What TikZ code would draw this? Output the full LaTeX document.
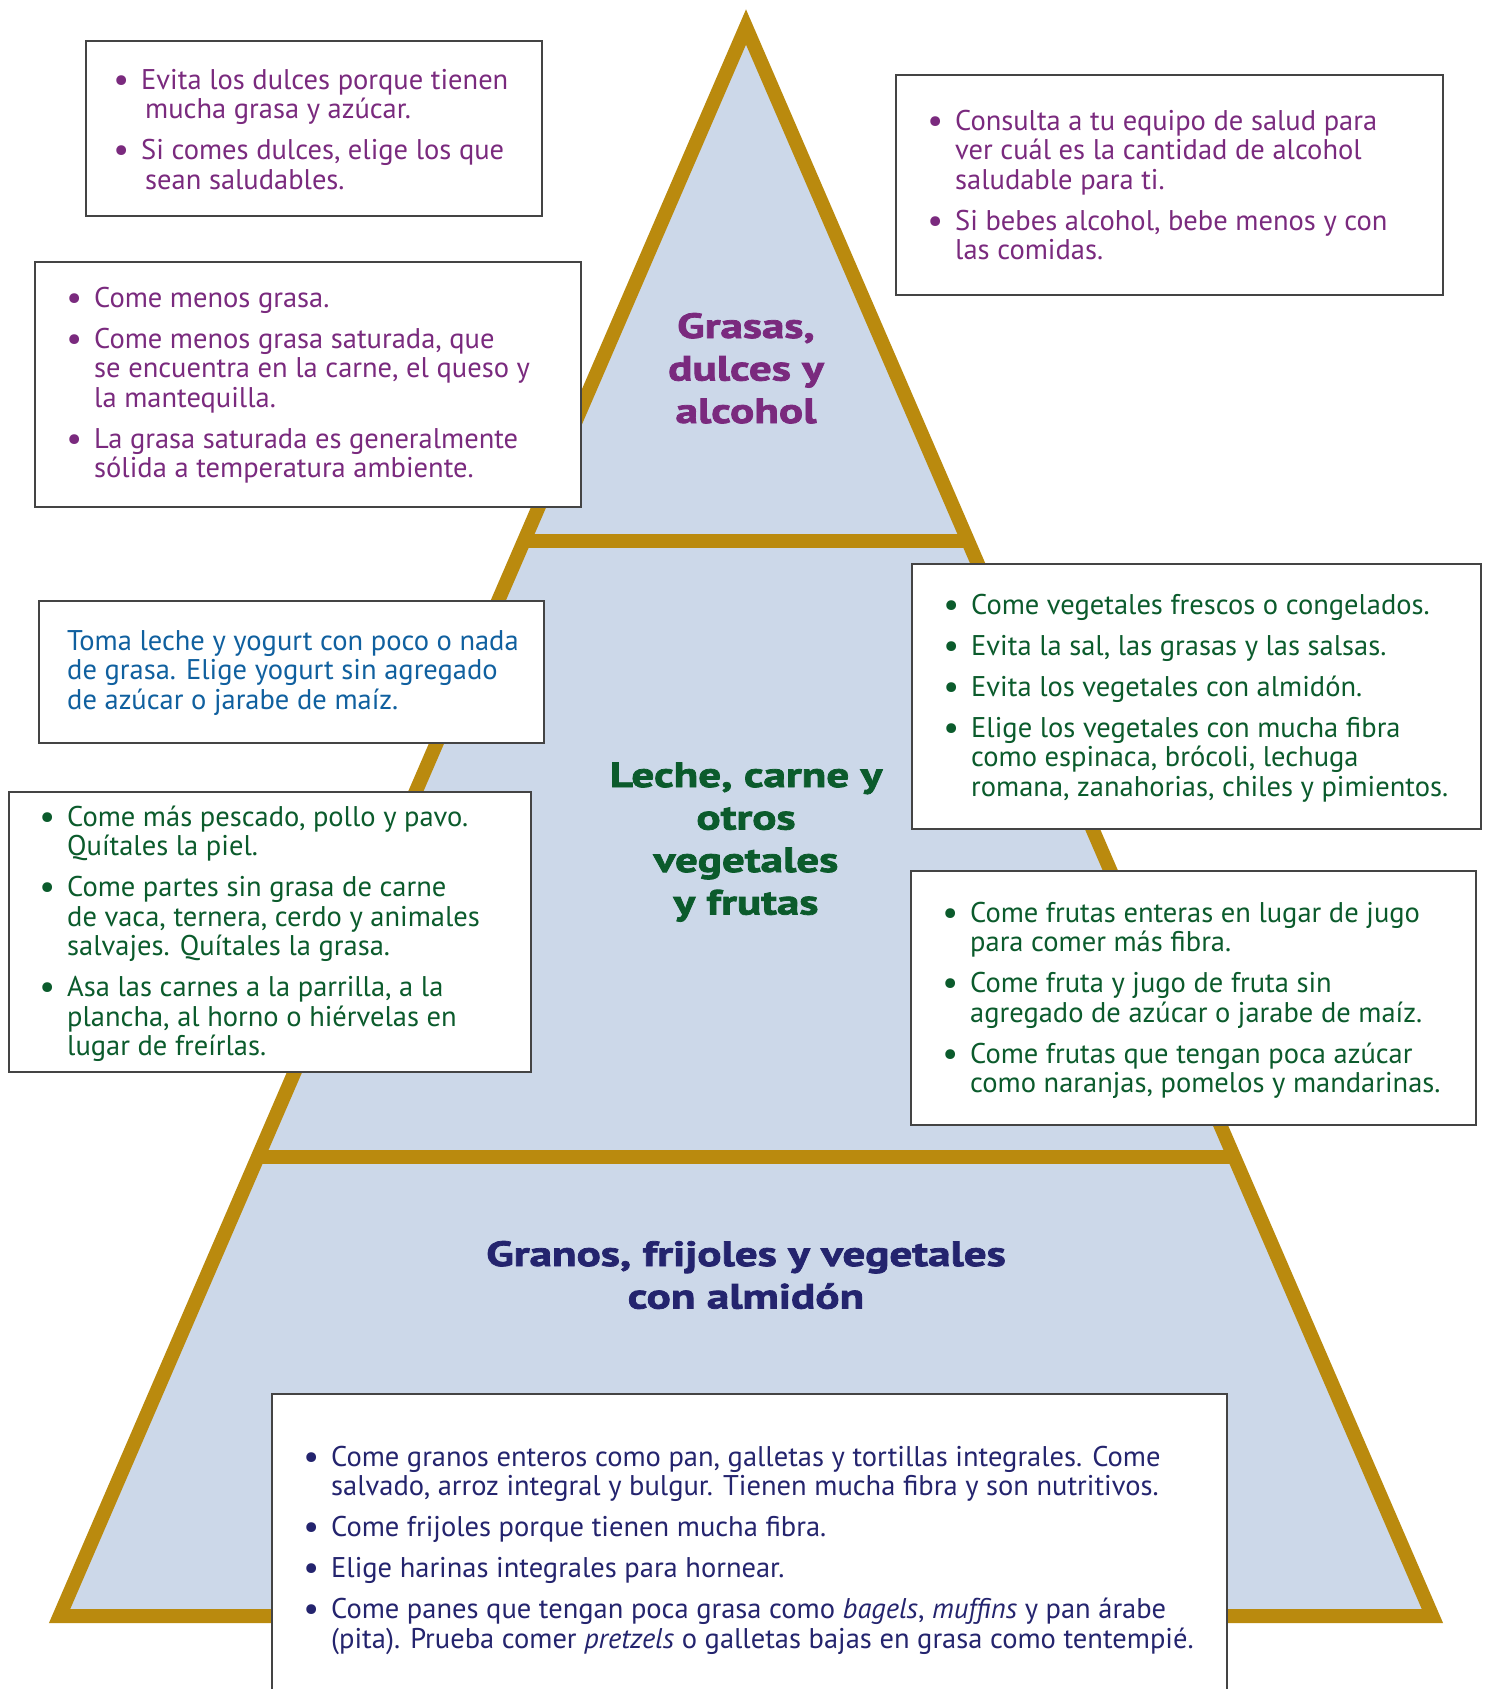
\documentclass[tikz,border=0pt]{standalone}
\usepackage{fontspec}
\setmainfont{PT Sans}
% wide, heavy face for the tier headings
\newfontfamily\headfam[FakeStretch=1.29, FakeBold=2.2]{PT Sans}

\definecolor{pyrgold}{HTML}{BA8A0E}
\definecolor{pyrfill}{HTML}{CCD8E9}
\definecolor{panelline}{HTML}{444444}
\definecolor{plum}{HTML}{7A2A7E}
\definecolor{leaf}{HTML}{0B5B2C}
\definecolor{sky}{HTML}{10609F}
\definecolor{ink}{HTML}{24246E}

% bullet paragraph inside a text block
\newcommand\bigdot{\raisebox{-2pt}{\fontsize{35}{35}\selectfont\textbullet}}
\newcommand\bitem{\par\noindent\llap{\bigdot\hspace{12pt}}}
% text block: first baseline sits on the node's base anchor
\newcommand\blocktext[1]{\parbox[t]{900pt}{\fontsize{28.5}{29.5}\selectfont\parskip=11.5pt #1}}
\newcommand\headtext[1]{\parbox[t]{600pt}{\centering\headfam\bfseries\fontsize{35}{42.5}\selectfont #1}}

\tikzset{
  panel/.style={draw=panelline, line width=2pt, fill=white, anchor=north west, inner sep=0pt},
  copy/.style={anchor=base west, inner sep=0pt},
  heading/.style={anchor=base, inner sep=0pt},
  band/.style={draw=pyrgold, line width=14pt, line join=miter},
}

\begin{document}
\begin{tikzpicture}[x=1pt, y=-1pt]
\useasboundingbox (0,0) rectangle (1486,1689);
\fill[white] (0,0) rectangle (1486,1689);

% pyramid outline and its two divider bands
\coordinate (apex) at (746,27);
\coordinate (bl) at (59.6,1616);
\coordinate (br) at (1432.4,1616);
\filldraw[band, fill=pyrfill] (apex) -- (br) -- (bl) -- cycle;
\coordinate (d1l) at (524,541);
\coordinate (d1r) at (968,541);
\coordinate (d2l) at (258,1157);
\coordinate (d2r) at (1234,1157);
\draw[band] (d1l) -- (d1r);
\draw[band] (d2l) -- (d2r);

% headings of the three tiers
\node[heading, text=plum] (tiertop) at (746,338) {\headtext{Grasas,\\ dulces y\\ alcohol}};
\node[heading, text=leaf] (tiermid) at (746,787) {\headtext{Leche, carne y\\ otros\\ vegetales\\ y frutas}};
\node[heading, text=ink] (tierbase) at (746,1266) {\headtext{Granos, frijoles y vegetales\\ con almidón}};

% advice panels
\node[panel, minimum width=456pt, minimum height=175pt] (sweetbox) at (85,40) {};
\node[copy, text=plum] (sweettext) at (141,89) {\blocktext{%
  \bitem Evita los dulces porque tienen\\ \hspace*{4pt}mucha grasa y azúcar.
  \bitem Si comes dulces, elige los que\\ \hspace*{4pt}sean saludables.}};

\node[panel, minimum width=547pt, minimum height=220pt] (alcbox) at (895,74) {};
\node[copy, text=plum] (alctext) at (955,130) {\blocktext{%
  \bitem Consulta a tu equipo de salud para\\ ver cuál es la cantidad de alcohol\\ saludable para ti.
  \bitem Si bebes alcohol, bebe menos y con\\ las comidas.}};

\node[panel, minimum width=546pt, minimum height=245pt] (fatbox) at (34,261) {};
\node[copy, text=plum] (fattext) at (94,307) {\blocktext{%
  \bitem Come menos grasa.
  \bitem Come menos grasa saturada, que\\ se encuentra en la carne, el queso y\\ la mantequilla.
  \bitem La grasa saturada es generalmente\\ sólida a temperatura ambiente.}};

\node[panel, minimum width=505pt, minimum height=142pt] (milkbox) at (38,600) {};
\node[copy, text=sky] (milktext) at (67,650) {\blocktext{%
  \noindent Toma leche y yogurt con poco o nada\\ de grasa. Elige yogurt sin agregado\\ de azúcar o jarabe de maíz.}};

\node[panel, minimum width=522pt, minimum height=280pt] (meatbox) at (8,791) {};
\node[copy, text=leaf] (meattext) at (67,826) {\blocktext{%
  \bitem Come más pescado, pollo y pavo.\\ Quítales la piel.
  \bitem Come partes sin grasa de carne\\ de vaca, ternera, cerdo y animales\\ salvajes. Quítales la grasa.
  \bitem Asa las carnes a la parrilla, a la\\ plancha, al horno o hiérvelas en\\ lugar de freírlas.}};

\node[panel, minimum width=569pt, minimum height=265pt] (vegbox) at (911,563) {};
\node[copy, text=leaf] (vegtext) at (971,614) {\blocktext{%
  \bitem Come vegetales frescos o congelados.
  \bitem Evita la sal, las grasas y las salsas.
  \bitem Evita los vegetales con almidón.
  \bitem Elige los vegetales con mucha fibra\\ como espinaca, brócoli, lechuga\\ romana, zanahorias, chiles y pimientos.}};

\node[panel, minimum width=565pt, minimum height=254pt] (fruitbox) at (910,870) {};
\node[copy, text=leaf] (fruittext) at (970,922) {\blocktext{%
  \bitem Come frutas enteras en lugar de jugo\\ para comer más fibra.
  \bitem Come fruta y jugo de fruta sin\\ agregado de azúcar o jarabe de maíz.
  \bitem Come frutas que tengan poca azúcar\\ como naranjas, pomelos y mandarinas.}};

\node[panel, minimum width=955pt, minimum height=320pt] (grainbox) at (271,1393) {};
\node[copy, text=ink] (graintext) at (331,1466) {\blocktext{%
  \bitem Come granos enteros como pan, galletas y tortillas integrales. Come\\ salvado, arroz integral y bulgur. Tienen mucha fibra y son nutritivos.
  \bitem Come frijoles porque tienen mucha fibra.
  \bitem Elige harinas integrales para hornear.
  \bitem Come panes que tengan poca grasa como \textit{bagels}, \textit{muffins} y pan árabe\\ (pita). Prueba comer \textit{pretzels} o galletas bajas en grasa como tentempié.}};
\end{tikzpicture}
\end{document}
